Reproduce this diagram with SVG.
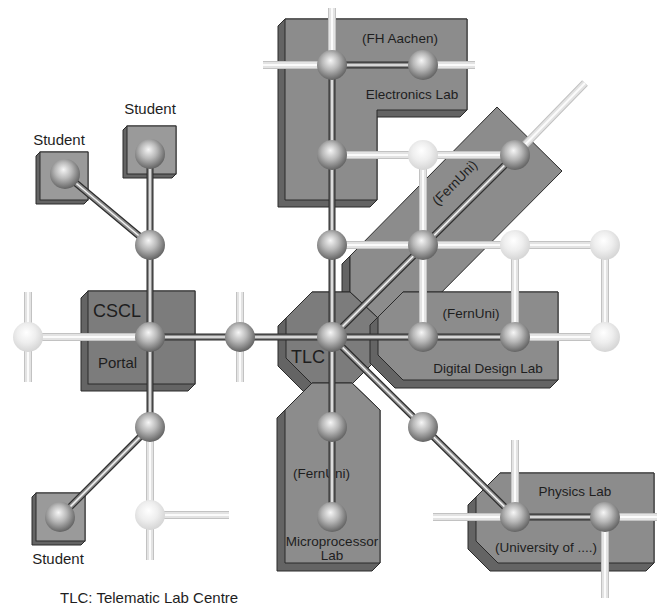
<svg xmlns="http://www.w3.org/2000/svg" xmlns:xlink="http://www.w3.org/1999/xlink" width="657" height="606" viewBox="0 0 657 606">
<style>
.side{fill:#646464;stroke:#2a2a2a;stroke-width:1}
.face{fill:#8c8c8c;stroke:#2a2a2a;stroke-width:1}
.faceD{fill:#7c7c7c;stroke:#2a2a2a;stroke-width:1}
.faceS{fill:#9a9a9a;stroke:#2a2a2a;stroke-width:1}
text{font-family:"Liberation Sans",Arial,sans-serif;fill:#1e1e1e}
.lb{font-size:13.5px}
.st{font-size:15px;text-anchor:middle}
.big{font-size:18px}
.m{text-anchor:middle}
.rd1{fill:none;stroke:#2e2e2e;stroke-width:7}
.rd2{fill:none;stroke:#8e8e8e;stroke-width:4.5}
.rd3{fill:none;stroke:#f0f0f0;stroke-width:1.6}
.rl1{fill:none;stroke:#c2c2c2;stroke-width:8}
.rl2{fill:none;stroke:#e3e3e3;stroke-width:6}
.rl3{fill:none;stroke:#fbfbfb;stroke-width:2}
.sd{fill:url(#gd)}
.sl{fill:url(#gl)}
</style>
<defs>
<radialGradient id="gd" cx="0.45" cy="0.42" r="0.62" fx="0.45" fy="0.35">
<stop offset="0" stop-color="#f6f6f6"/>
<stop offset="0.45" stop-color="#b8b8b8"/>
<stop offset="1" stop-color="#5a5a5a"/>
</radialGradient>
<radialGradient id="gl" cx="0.45" cy="0.42" r="0.62" fx="0.45" fy="0.35">
<stop offset="0" stop-color="#ffffff"/>
<stop offset="0.5" stop-color="#eeeeee"/>
<stop offset="1" stop-color="#d2d2d2"/>
</radialGradient>
<path id="darkRods" d="M65,174 L150,245 M150,154 L150,427 M150,337 L332,337 M150,427 L60,517 M332,65 L423,65 M332,65 L332,517 M332,337 L515,155 M332,337 L515,337 M332,337 L515,517 M515,517 L605,517"/>
<path id="lightRods" d="M28,292 L28,382 M28,337 L150,337 M240,292 L240,382 M150,427 L150,560 M150,515 L229,515 M332,8 L332,65 M263,65 L332,65 M423,65 L475,65 M332,155 L515,155 M423,155 L423,337 M332,245 L605,245 M515,245 L515,337 M605,245 L605,337 M515,337 L605,337 M515,155 L585,83 M515,440 L515,517 M433,517 L515,517 M605,517 L657,517 M605,517 L605,598"/>
</defs>
<rect width="657" height="606" fill="#ffffff"/>

<g id="student1">
<polygon class="side" points="40,152 88,152 88,200 84,204 36,204 36,156"/>
<rect class="faceS" x="40" y="152" width="48" height="48"/>
<text class="st" x="59" y="145">Student</text>
</g>
<g id="student2">
<polygon class="side" points="127,126 176,126 176,174 172,178 123,178 123,130"/>
<rect class="faceS" x="127" y="126" width="49" height="48"/>
<text class="st" x="150" y="114">Student</text>
</g>
<g id="student3">
<polygon class="side" points="36,493 85,493 85,541 81,545 32,545 32,497"/>
<rect class="faceS" x="36" y="493" width="49" height="48"/>
<text class="st" x="58" y="564">Student</text>
</g>
<g id="cscl-portal">
<polygon class="side" points="88,291 195,291 195,384 188,391 81,391 81,298"/>
<rect class="faceD" x="88" y="291" width="107" height="93"/>
<text class="big" x="93" y="317">CSCL</text>
<text x="98" y="368" font-size="15">Portal</text>
</g>
<g id="electronics-lab">
<polygon class="side" points="285,19 467,19 467,110 460,117 377,117 377,200 370,207 278,207 278,26"/>
<polygon class="face" points="285,19 467,19 467,110 377,110 377,200 285,200"/>
<text class="lb m" x="400" y="43">(FH Aachen)</text>
<text class="lb m" x="412" y="99">Electronics Lab</text>
</g>
<g id="fernuni-diagonal">
<polygon class="side" points="350,256 342,264 342,330 350,322"/>
<polygon class="face" points="497,107 562,171 412,322 350,322 350,256"/>
<text class="lb m" x="458" y="186" transform="rotate(-45 458 186)">(FernUni)</text>
</g>
<g id="tlc">
<polygon class="side" points="312,292 350,292 378,318 378,358 344,392 304,392 278,366 278,326"/>
<polygon class="faceD" points="312,292 350,292 378,318 378,358 352,384 312,384 286,358 286,318"/>
<text class="big" x="291" y="363">TLC</text>
</g>
<g id="microprocessor-lab">
<polygon class="side" points="312,383 352,383 380,410 380,563 372,571 277,571 277,418"/>
<polygon class="face" points="312,383 352,383 380,410 380,563 285,563 285,410"/>
<text class="lb" x="293" y="478">(FernUni)</text>
<text class="lb m" x="332" y="546">Microprocessor</text>
<text class="lb m" x="332" y="560">Lab</text>
</g>
<g id="digital-design-lab">
<polygon class="side" points="403,292 558,292 558,380 550,388 395,388 370,363 370,325"/>
<polygon class="face" points="403,292 558,292 558,380 403,380 378,355 378,317"/>
<text class="lb m" x="471" y="318">(FernUni)</text>
<text class="lb m" x="488" y="373">Digital Design Lab</text>
</g>
<g id="physics-lab">
<polygon class="side" points="500,473 654,473 654,563 646,571 490,571 468,549 468,505"/>
<polygon class="face" points="500,473 654,473 654,563 498,563 476,541 476,497"/>
<text class="lb m" x="575" y="496">Physics Lab</text>
<text class="lb m" x="546" y="552">(University of ....)</text>
</g>

<g id="connectors">
<use xlink:href="#lightRods" class="rl1"/>
<use xlink:href="#lightRods" class="rl2"/>
<use xlink:href="#lightRods" class="rl3"/>
<use xlink:href="#darkRods" class="rd1"/>
<use xlink:href="#darkRods" class="rd2"/>
<use xlink:href="#darkRods" class="rd3"/>
</g>

<g id="spheres">
<circle id="n-student1" class="sd" cx="65" cy="174" r="15"/>
<circle id="n-student2" class="sd" cx="150" cy="154" r="15"/>
<circle id="n-junction1" class="sd" cx="150" cy="245" r="15"/>
<circle id="n-cscl" class="sd" cx="150" cy="337" r="15"/>
<circle id="n-left" class="sl" cx="28" cy="337" r="15"/>
<circle id="n-mid" class="sd" cx="240" cy="337" r="15"/>
<circle id="n-tlc" class="sd" cx="332" cy="337" r="15"/>
<circle id="n-junction2" class="sd" cx="150" cy="427" r="15"/>
<circle id="n-student3" class="sd" cx="60" cy="517" r="15"/>
<circle id="n-lowlight" class="sl" cx="150" cy="515" r="15"/>
<circle id="n-el1" class="sd" cx="332" cy="65" r="15"/>
<circle id="n-el2" class="sd" cx="423" cy="65" r="15"/>
<circle id="n-el3" class="sd" cx="332" cy="155" r="15"/>
<circle id="n-l1" class="sl" cx="423" cy="155" r="15"/>
<circle id="n-fd2" class="sd" cx="515" cy="155" r="15"/>
<circle id="n-v245" class="sd" cx="332" cy="245" r="15"/>
<circle id="n-fd1" class="sd" cx="423" cy="245" r="15"/>
<circle id="n-l2" class="sl" cx="515" cy="245" r="15"/>
<circle id="n-l3" class="sl" cx="605" cy="245" r="15"/>
<circle id="n-dd1" class="sd" cx="423" cy="337" r="15"/>
<circle id="n-dd2" class="sd" cx="515" cy="337" r="15"/>
<circle id="n-l4" class="sl" cx="605" cy="337" r="15"/>
<circle id="n-mp1" class="sd" cx="332" cy="427" r="15"/>
<circle id="n-mp2" class="sd" cx="332" cy="517" r="15"/>
<circle id="n-diag" class="sd" cx="423" cy="427" r="15"/>
<circle id="n-ph1" class="sd" cx="515" cy="517" r="15"/>
<circle id="n-ph2" class="sd" cx="605" cy="517" r="15"/>
</g>

<text x="60" y="603" font-size="15">TLC: Telematic Lab Centre</text>
</svg>
